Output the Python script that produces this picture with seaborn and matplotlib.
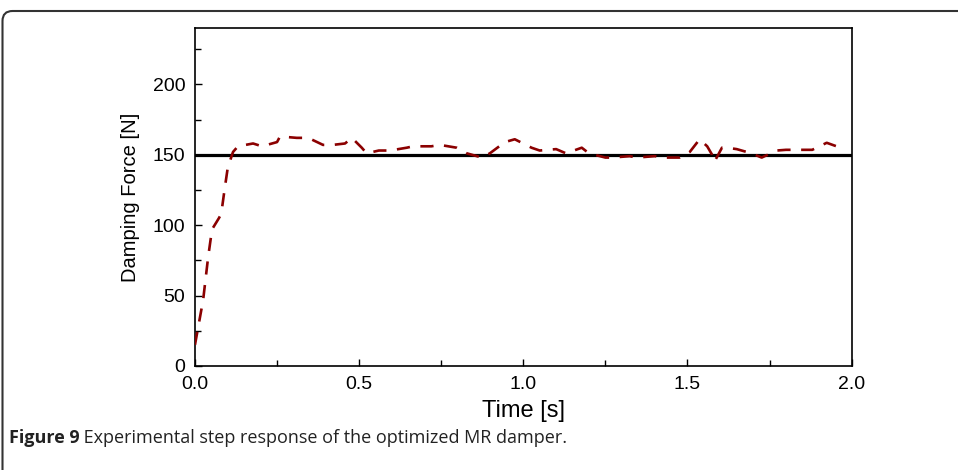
import numpy as np
import pandas as pd
import matplotlib
matplotlib.use("Agg")
import matplotlib.pyplot as plt
import seaborn as sns
from matplotlib.patches import FancyBboxPatch
from matplotlib.ticker import MultipleLocator

# Step response
time_s = [0.0, 0.025, 0.04, 0.052, 0.073, 0.08, 0.09, 0.1, 0.116, 0.131, 0.177,
          0.204, 0.25, 0.259, 0.31, 0.345, 0.39, 0.42, 0.457, 0.478, 0.508, 0.523,
          0.56, 0.594, 0.645, 0.664, 0.72, 0.746, 0.797, 0.828, 0.874, 0.898,
          0.944, 0.974, 1.025, 1.05, 1.10, 1.13, 1.178, 1.20, 1.25, 1.27, 1.324,
          1.345, 1.40, 1.43, 1.476, 1.507, 1.537, 1.56, 1.575, 1.582, 1.605, 1.62,
          1.65, 1.695, 1.726, 1.772, 1.80, 1.85, 1.88, 1.924, 1.954]
force_n = [15, 47, 77, 97, 105, 108, 125, 141, 152, 156, 158,
           156, 159, 163, 162, 162, 157, 157, 158, 162, 155, 151,
           153, 153, 155, 156, 156, 157, 155, 151, 148, 151,
           159, 161, 155, 153, 154, 151, 155, 151, 148, 148, 149,
           148, 149, 148, 148, 152, 161, 156, 150, 145, 155, 155,
           154, 151, 148, 153, 153.5, 153.5, 153.5, 158.5, 156]
target_force = 150

x_ticks = [0.0, 0.5, 1.0, 1.5, 2.0]
y_ticks = [0, 50, 100, 150, 200]

caption_bold = "Figure 9"
caption_text = " Experimental step response of the optimized MR damper."


def main():
    df = pd.DataFrame({"Time": time_s, "Force": force_n})

    sns.set_style("ticks")
    plt.rcParams["font.family"] = ["Liberation Sans", "DejaVu Sans"]

    fig = plt.figure(figsize=(9.58, 4.70), dpi=100)
    ax = fig.add_axes([0.2035, 0.2213, 0.6855, 0.7191])

    # setpoint and measured response
    ax.axhline(target_force, color="black", lw=2.3, zorder=2)
    sns.lineplot(data=df, x="Time", y="Force", ax=ax, color="#8b0000",
                 lw=1.9, dashes=False, zorder=3)
    ax.lines[-1].set_dashes((5, 4))

    ax.set_xlim(0, 2.0)
    ax.set_ylim(0, 240)
    ax.set_xticks(x_ticks)
    ax.set_xticklabels([f"{v:.1f}" for v in x_ticks])
    ax.set_yticks(y_ticks)
    ax.xaxis.set_minor_locator(MultipleLocator(0.25))
    ax.yaxis.set_minor_locator(MultipleLocator(25))
    ax.tick_params(which="both", direction="in", top=False, right=False,
                   bottom=True, left=True, width=1.0, color="black",
                   labelcolor="black")
    ax.tick_params(which="major", length=5, labelsize=14, pad=7)
    ax.tick_params(which="minor", length=4)

    for sp in ax.spines.values():
        sp.set_color("black")
        sp.set_linewidth(1.2)

    ax.set_xlabel("Time [s]", fontsize=17, labelpad=5, color="black")
    ax.set_ylabel("Damping Force [N]", fontsize=14.5, labelpad=9,
                  color="black")

    # rounded frame around the figure panel
    frame = FancyBboxPatch((0.025, -0.5), 12.0, 5.09,
                           boxstyle="round,pad=0,rounding_size=0.1",
                           transform=fig.dpi_scale_trans, fill=False,
                           edgecolor="#333333", lw=1.5, clip_on=False)
    fig.patches.append(frame)

    t1 = fig.text(0.009, 0.058, caption_bold, fontsize=13, fontweight="bold",
                  family=["Open Sans", "DejaVu Sans"], color="#222222")
    ax.annotate(caption_text, xy=(1, 0), xycoords=t1, va="bottom", ha="left",
                fontsize=13, family=["Open Sans", "DejaVu Sans"],
                color="#222222", annotation_clip=False)

    fig.savefig("out.png", dpi=100)


if __name__ == "__main__":
    main()
